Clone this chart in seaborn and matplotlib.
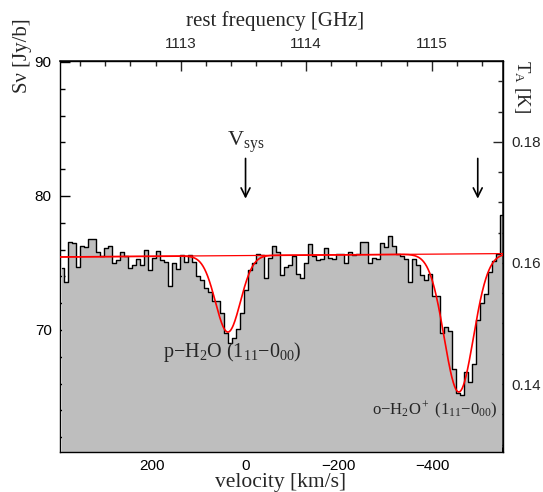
import numpy as np
import pandas as pd
import matplotlib
matplotlib.use("Agg")
import matplotlib.pyplot as plt
import seaborn as sns
from matplotlib.ticker import MultipleLocator, FixedLocator

# ---------------- data ----------------
flux_jy = [
    74.6, 73.6, 76.6, 76.5, 74.7, 76.3, 76.2, 76.8, 76.8, 75.8, 75.5, 76.1, 76.3, 75.0, 75.2,
    75.8, 75.5, 74.6, 74.85, 75.3, 74.85, 76.0, 74.5,
    75.4, 75.9, 75.2, 75.05, 73.3, 74.97, 74.55, 75.6, 75.1, 75.6, 75.1, 74.0, 73.7, 73.1,
    72.8, 72.2, 72.15, 71.3, 69.75, 69.0, 69.4, 70.1, 71.3, 73.0, 74.5,
    75.0, 75.7, 75.6, 73.9, 75.4, 76.3, 75.8, 74.1, 74.7, 74.85, 75.5, 74.2, 73.9, 75.0,
    76.4, 75.5, 75.2, 75.3, 76.1, 75.4, 75.3, 75.7,
    75.7, 75.0, 75.8, 75.6, 75.7, 76.6, 76.6, 75.0, 75.35, 75.3, 76.5, 76.2, 77.0, 76.3,
    75.7, 75.5, 75.3, 73.6, 75.3, 74.85, 74.1, 73.7,
    74.2, 72.5, 72.5, 69.75, 70.2, 69.9, 67.1, 65.3, 65.15, 66.9, 66.15, 67.45, 70.75,
    72.0, 72.7, 74.35, 75.15, 75.7, 78.6,
]
v_first_chan = 393.6      # km/s, centre of first channel
chan_width = 8.57         # km/s
velocity = v_first_chan - chan_width * np.arange(len(flux_jy))

# continuum (linear) and Gaussian fit parameters
cont_v = [397.9, -552.8]
cont_s = [75.45, 75.70]
gauss_center = [37.8, -457.4]    # km/s
gauss_depth = [5.7, 10.3]        # Jy
gauss_sigma = [26.7, 31.3]       # km/s

arrow_v = [0.0, -498.0]
freq_ticks = [1113, 1114, 1115]
ta_ticks = [0.14, 0.16, 0.18]
f0_ghz = 1113.517
c_kms = 299792.458

df = pd.DataFrame({"velocity": velocity, "flux": flux_jy})
vfine = np.linspace(cont_v[0], cont_v[1], 1200)
cont = np.interp(vfine, cont_v[::-1], cont_s[::-1])
fit = cont.copy()
for c, d, s in zip(gauss_center, gauss_depth, gauss_sigma):
    fit = fit - d * np.exp(-0.5 * ((vfine - c) / s) ** 2)
df_fit = pd.DataFrame({"velocity": vfine, "fit": fit, "cont": cont})

# ---------------- style ----------------
sns.set_theme(style="ticks")
plt.rcParams["font.family"] = ["Liberation Sans", "DejaVu Sans"]
plt.rcParams["mathtext.fontset"] = "custom"
plt.rcParams["mathtext.rm"] = "Liberation Serif"
plt.rcParams["mathtext.it"] = "Liberation Serif:italic"
plt.rcParams["mathtext.bf"] = "Liberation Serif:bold"

W, H = 543, 492
fig = plt.figure(figsize=(W / 100, H / 100), dpi=100)
ax = fig.add_axes([60 / W, 1 - 451.7 / H, 443.3 / W, 390.7 / H])

ymin, ymax = 60.92, 90.07
ax.fill_between(df["velocity"], df["flux"], ymin - 5, step="mid",
                color="#bebebe", linewidth=0, zorder=1)
sns.lineplot(data=df, x="velocity", y="flux", drawstyle="steps-mid",
             color="black", linewidth=1.0, ax=ax, sort=False, zorder=2)
sns.lineplot(data=df_fit, x="velocity", y="cont", color="red",
             linewidth=0.9, ax=ax, sort=False, zorder=3)
sns.lineplot(data=df_fit, x="velocity", y="fit", color="red",
             linewidth=1.2, ax=ax, sort=False, zorder=4)

ax.set_xlim(cont_v[0], cont_v[1])
ax.set_ylim(ymin, ymax)
ax.set_xlabel("")
ax.set_ylabel("")

for sp in ax.spines.values():
    sp.set_linewidth(1.0)
    sp.set_color("black")

ax.xaxis.set_major_locator(MultipleLocator(200))
ax.xaxis.set_minor_locator(MultipleLocator(50))
ax.yaxis.set_major_locator(MultipleLocator(10))
ax.yaxis.set_minor_locator(MultipleLocator(2))
ax.tick_params(which="both", direction="in", top=False, right=False,
               colors="black", labelsize=11)
ax.tick_params(which="major", length=7, width=1.0)
ax.tick_params(which="minor", length=3.5, width=1.0)
ax.tick_params(axis="x", pad=5)
ax.tick_params(axis="y", pad=6)

def v2f(v):
    return f0_ghz * (1 - np.asarray(v) / c_kms)

def f2v(f):
    return c_kms * (1 - np.asarray(f) / f0_ghz)

secx = ax.secondary_xaxis("top", functions=(v2f, f2v))
secx.xaxis.set_major_locator(FixedLocator(freq_ticks))
secx.xaxis.set_minor_locator(MultipleLocator(0.2))
secx.tick_params(which="both", direction="in", labelsize=11, pad=7)
secx.tick_params(which="major", length=7, width=1.0)
secx.tick_params(which="minor", length=3.5, width=1.0)
secx.xaxis.set_major_formatter(matplotlib.ticker.FormatStrFormatter("%d"))

def s2t(s):
    return 0.16 + (np.asarray(s) - 75.0) * 0.002215

def t2s(t):
    return 75.0 + (np.asarray(t) - 0.16) / 0.002215

secy = ax.secondary_yaxis("right", functions=(s2t, t2s))
secy.yaxis.set_major_locator(FixedLocator(ta_ticks))
secy.yaxis.set_minor_locator(MultipleLocator(0.005))
secy.tick_params(which="both", direction="in", labelsize=11, pad=6)
secy.tick_params(which="major", length=7, width=1.0)
secy.tick_params(which="minor", length=3.5, width=1.0)
secy.yaxis.set_major_formatter(matplotlib.ticker.FormatStrFormatter("%.2f"))

# hide empty offset texts
for a in (ax.xaxis, ax.yaxis, secx.xaxis, secx.yaxis, secy.xaxis, secy.yaxis):
    a.offsetText.set_visible(False)

# ---------------- labels ----------------
serif = ["Liberation Serif", "DejaVu Serif"]
fig.text(275 / W, 1 - 21 / H, "rest frequency [GHz]", ha="center", va="center",
         fontsize=15, family=serif)
fig.text(281 / W, 1 - 482 / H, "velocity [km/s]", ha="center", va="center",
         fontsize=15.5, family=serif)
fig.text(22 / W, 1 - 56 / H, "Sν [Jy/b]", ha="center", va="center",
         rotation=90, fontsize=15, family=serif)
fig.text(522 / W, 1 - 86 / H, r"T$_{\rm A}$ [K]", ha="center", va="center",
         rotation=270, fontsize=13.5, family=serif)

ax.text(0, 84.0, r"V$_{\rm sys}$", ha="center", va="center", fontsize=16,
        family=serif)
for av in arrow_v:
    ax.annotate("", xy=(av, 79.8), xytext=(av, 82.8),
                arrowprops=dict(arrowstyle="->", color="black", lw=1.2,
                                mutation_scale=16, shrinkA=0, shrinkB=0))

ax.text(177, 68.36, r"p$-$H$_2$O (1$_{11}$$-$0$_{00}$)", ha="left", va="center",
        fontsize=14.5, family=serif)
ax.text(-271, 64.0, r"o$-$H$_2$O$^+$ (1$_{11}$$-$0$_{00}$)", ha="left", va="center",
        fontsize=12, family=serif)

fig.savefig("out.png", dpi=100, facecolor="white")
